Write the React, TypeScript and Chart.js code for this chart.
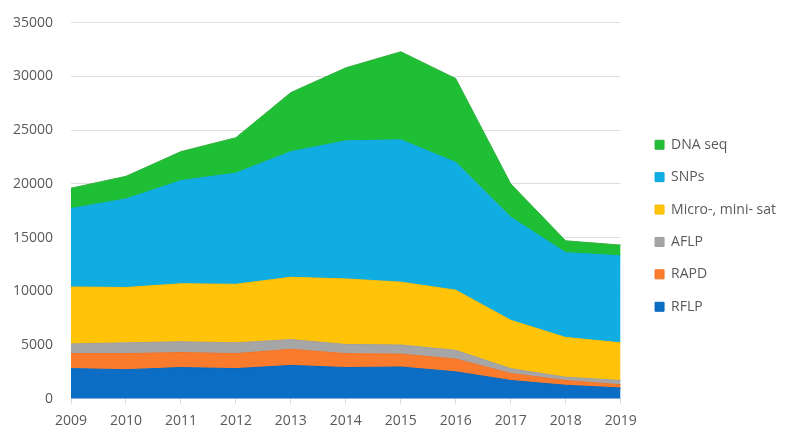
import React, { useEffect, useRef } from "react";
import { Chart, registerables } from "chart.js";

Chart.register(...registerables);

const years = ["2009", "2010", "2011", "2012", "2013", "2014", "2015", "2016", "2017", "2018", "2019"];
const yTicks = [0, 5000, 10000, 15000, 20000, 25000, 30000, 35000];
const rflp = [2800, 2700, 2900, 2800, 3100, 2900, 2950, 2500, 1700, 1250, 1000];
const rapd = [1400, 1500, 1400, 1400, 1500, 1300, 1200, 1200, 650, 450, 300];
const aflp = [900, 1000, 1000, 1000, 900, 850, 850, 800, 450, 300, 400];
const micro = [5300, 5150, 5400, 5450, 5800, 6100, 5850, 5600, 4500, 3700, 3500];
const snps = [7300, 8250, 9600, 10350, 11700, 12850, 13250, 11900, 9600, 7900, 8100];
const dnaSeq = [1900, 2100, 2700, 3300, 5500, 6800, 8200, 7800, 3100, 1100, 1000];

const seriesNames = ["RFLP", "RAPD", "AFLP", "Micro-, mini- sat", "SNPs", "DNA seq"];
const seriesColors = ["#0c6dc4", "#fa7b2c", "#a6a6a6", "#ffc30a", "#10ade2", "#1fbf35"];
const seriesBorders = ["#0a66b8", "#f07428", "#9e9e9e", "#f7bb05", "#0ea6da", "#38b043"];

const FONT = "'Open Sans', sans-serif";

export default function App() {
  const ref = useRef<HTMLCanvasElement | null>(null);
  useEffect(() => {
    let chart: Chart | null = null;
    let cancelled = false;
    const build = () => {
      if (cancelled || !ref.current) return;
      const values = [rflp, rapd, aflp, micro, snps, dnaSeq];
      chart = new Chart(ref.current, {
        type: "line",
        data: {
          labels: years,
          datasets: values.map((v, i) => ({
            label: seriesNames[i],
            data: v,
            backgroundColor: seriesColors[i],
            borderColor: seriesBorders[i],
            borderWidth: 1,
            pointRadius: 0,
            fill: i === 0 ? "origin" : "-1",
            tension: 0,
          })),
        },
        options: {
          animation: false,
          responsive: true,
          maintainAspectRatio: false,
          layout: { padding: { top: 14, left: 0, right: 6, bottom: 8.5 } },
          plugins: {
            tooltip: { enabled: false },
            legend: {
              position: "right",
              reverse: true,
              maxWidth: 220,
              labels: {
                boxWidth: 9,
                boxHeight: 9,
                padding: 18.4,
                color: "#595959",
                font: { family: FONT, size: 14 },
              },
            },
          },
          scales: {
            x: {
              offset: false,
              grid: { drawOnChartArea: false, drawTicks: true, tickLength: 5, color: "#d9d9d9" },
              border: { color: "#d9d9d9" },
              ticks: { color: "#595959", font: { family: FONT, size: 14 }, padding: 8.5, maxRotation: 0 },
            },
            y: {
              stacked: true,
              min: 0,
              max: 35000,
              afterFit: (s: any) => {
                s.width = 71;
                s.paddingTop = 22.7;
                s.paddingBottom = 0;
              },
              afterBuildTicks: (s: any) => {
                s.ticks = yTicks.map((v) => ({ value: v }));
              },
              grid: { color: "#dedede", drawTicks: false },
              border: { display: false },
              ticks: {
                color: "#595959",
                font: { family: FONT, size: 14 },
                padding: 18,
                callback: (v: any) => String(v),
              },
            },
            yGap: {
              position: "right",
              display: true,
              min: 0,
              max: 1,
              afterFit: (s: any) => {
                s.width = 16;
                s.paddingTop = 0;
                s.paddingBottom = 0;
              },
              grid: { display: false },
              border: { display: false },
              ticks: { display: false },
            },
          },
        },
      });
    };
    const fonts = (document as any).fonts;
    if (fonts && fonts.load) {
      Promise.all([fonts.load("14px 'Open Sans'")])
        .catch(() => null)
        .then(() => fonts.ready)
        .then(build, build);
    } else {
      build();
    }
    return () => {
      cancelled = true;
      if (chart) chart.destroy();
    };
  }, []);
  return (
    <div style={{ position: "fixed", left: 0, top: 0, width: 792, height: 446, background: "#fff" }}>
      <canvas ref={ref} />
    </div>
  );
}
